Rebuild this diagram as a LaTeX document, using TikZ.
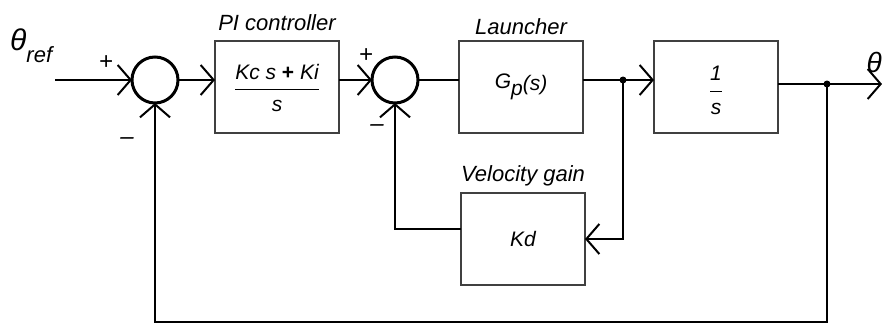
\documentclass[tikz,border=0pt]{standalone}
\usepackage{fontspec}
\setmainfont{Liberation Sans}
\usetikzlibrary{positioning,arrows.meta}
\setlength{\arrayrulewidth}{1.3pt}

\begin{document}
\begin{tikzpicture}[x=1pt, y=1pt,
  block/.style={rectangle, draw=black!75, line width=1.3pt, minimum width=124pt, minimum height=92pt, outer sep=0pt, font=\fontsize{21}{24}\selectfont\itshape},
  sumnode/.style={circle, draw, line width=3pt, minimum size=46pt, inner sep=0pt, outer sep=0pt},
  lbl/.style={inner sep=0pt, font=\fontsize{22}{24}\selectfont\itshape},
  sign/.style={inner sep=0pt, font=\fontsize{24}{26}\selectfont\itshape},
  wire/.style={line width=2.4pt},
  conn/.style={wire, -{Straight Barb[length=13pt, width=30pt, line width=2pt]}}]
  \useasboundingbox (0,0) rectangle (882,325);

  % blocks and summing points
  \node[sumnode] (sum1) at (155,245) {};
  \node[block, right=37pt of sum1, yshift=-7pt] (pi) {\raisebox{-9pt}[0pt][0pt]{\begin{tabular}{@{}c@{}}Kc s \textup{\textbf{+}} Ki\\[2pt]\hline\rule{0pt}{22pt}s\end{tabular}}};
  \node[sumnode, right=33pt of pi, yshift=7pt] (sum2) {};
  \node[block, right=41pt of sum2, yshift=-7pt] (plant) {G\raisebox{-7pt}{p}\raisebox{-2pt}{(s)}};
  \node[block, right=71pt of plant] (integ) {\raisebox{-11pt}[0pt][0pt]{\begin{tabular}{@{}c@{}}1\\[3pt]\hline\rule{0pt}{23pt}s\end{tabular}}};
  \node[block, below=60pt of plant, xshift=2pt] (kd) {Kd};

  % labels
  \node[lbl, above=10pt of pi] (pilbl) {PI controller};
  \node[lbl, above=6pt of plant] (plantlbl) {Launcher};
  \node[lbl, above=7pt of kd] (kdlbl) {Velocity gain};
  \node[lbl, anchor=base west] (ref) at (10,275) {{\fontsize{30}{30}\selectfont θ}\raisebox{-12pt}{ref}};
  \node[lbl, anchor=base east] (thetaout) at (882,253) {\fontsize{28}{28}\selectfont θ};
  \node[sign] (p1) at (106,262) {+};
  \node[sign] (m1) at (127,184) {–};
  \node[sign] (p2) at (366,269) {+};
  \node[sign] (m2) at (377,197) {–};

  % signal lines
  \coordinate (in) at (55,245);
  \coordinate (split) at (623,245);
  \coordinate (tap) at (827,241);
  \coordinate (out) at (882,241);
  \coordinate (bot) at (827,3);
  \draw[conn] (in) -- (sum1);
  \draw[conn] (sum1) -- (sum1 -| pi.west);
  \draw[conn] (pi.east |- sum2) -- (sum2);
  \draw[wire] (sum2) -- (sum2 -| plant.west);
  \draw[conn] (plant.east |- split) -- (split) -- (integ.west |- split);
  \draw[conn] (integ.east |- tap) -- (out);
  \draw[conn] (split) |- (kd.east);
  \draw[conn] ([yshift=10pt]kd.west) -| (sum2);
  \draw[conn] (tap) -- (bot) -| (sum1);
  \fill (split) circle (3.5);
  \fill (tap) circle (3.5);
\end{tikzpicture}
\end{document}
